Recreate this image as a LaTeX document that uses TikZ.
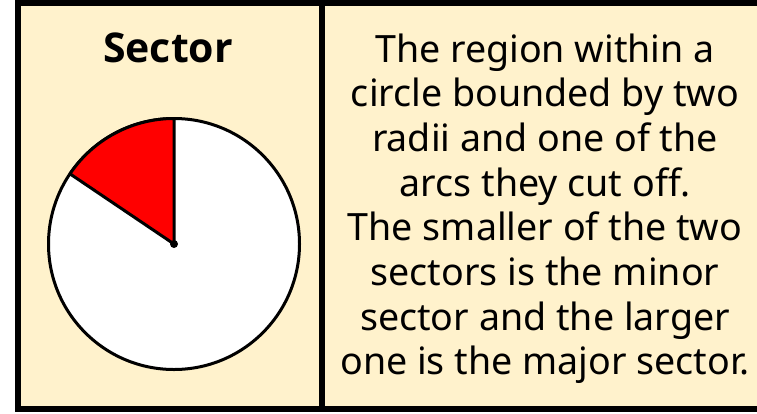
\documentclass[tikz,border=0pt]{standalone}
\usepackage{fontspec}
\setmainfont{Noto Sans}
\newfontfamily\titlefont{Open Sans}
\definecolor{beige}{HTML}{FFF2CC}
\definecolor{sectred}{HTML}{FF0000}
\begin{document}
\begin{tikzpicture}[x=1pt,y=-1pt,
  frame/.style={line width=6pt,draw=black},
  body/.style={font=\fontsize{37.6}{44}\selectfont,anchor=base,inner sep=0pt},
  title/.style={font=\titlefont\fontsize{41}{47}\selectfont\bfseries,anchor=base,inner sep=0pt}]
\useasboundingbox (0,0) rectangle (757,413);
\fill[white] (0,0) rectangle (757,413);
\fill[beige] (18,3) rectangle (765,409);
\draw[frame] (18,-5) -- (18,409) -- (765,409);
\draw[frame] (18,3) -- (765,3);
\draw[frame] (321.5,0) -- (321.5,409);
\node[title] (t) at (168,62) {Sector};
\coordinate (c) at (174,244);
\draw[line width=3pt,fill=white] (c) circle[radius=125.5];
\draw[line width=3pt,fill=sectred,line join=round] (c) -- ++(90:-125.5) arc[start angle=-90,end angle=-146,radius=125.5] -- cycle;
\fill (c) circle[radius=4];
\foreach \t [count=\i from 0] in {The region within a,circle bounded by two,radii and one of the,arcs they cut off.,The smaller of the two,sectors is the minor,sector and the larger,one is the major sector.}{
  \node[body] (l\i) at (545,62+44.7*\i) {\t};
}
\end{tikzpicture}
\end{document}
